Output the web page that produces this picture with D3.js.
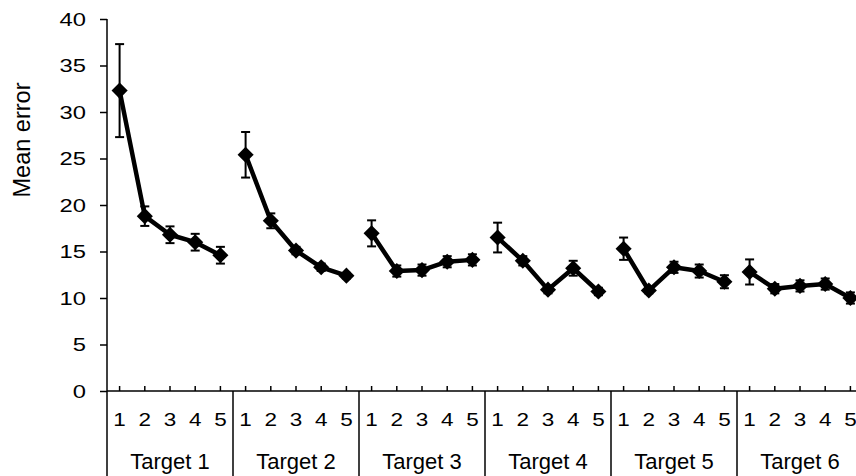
<!DOCTYPE html>
<html>
<head>
<meta charset="utf-8">
<script src="https://cdn.jsdelivr.net/npm/d3@7"></script>
<style>
  body { margin: 0; background: #fff; }
  svg { display: block; font-family: Arial, "Liberation Sans", sans-serif; }
</style>
</head>
<body>
<div id="vue"></div>
<script>
// données
var targets = ["Target 1", "Target 2", "Target 3", "Target 4", "Target 5", "Target 6"];
var trials = ["1", "2", "3", "4", "5"];
var yTicks = [0, 5, 10, 15, 20, 25, 30, 35, 40];

var meanT1 = [32.3, 18.8, 16.8, 16.0, 14.6];
var meanT2 = [25.4, 18.3, 15.1, 13.3, 12.4];
var meanT3 = [16.95, 12.9, 13.0, 13.9, 14.1];
var meanT4 = [16.5, 14.0, 10.9, 13.2, 10.7];
var meanT5 = [15.3, 10.8, 13.3, 12.9, 11.75];
var meanT6 = [12.8, 11.0, 11.3, 11.5, 10.0];

var errT1 = [5.0, 1.05, 0.9, 0.9, 0.9];
var errT2 = [2.45, 0.8, 0.4, 0.4, 0.3];
var errT3 = [1.4, 0.6, 0.6, 0.6, 0.6];
var errT4 = [1.6, 0.5, 0.4, 0.8, 0.4];
var errT5 = [1.2, 0.3, 0.6, 0.7, 0.7];
var errT6 = [1.35, 0.5, 0.6, 0.6, 0.6];

var means = [meanT1, meanT2, meanT3, meanT4, meanT5, meanT6];
var errs = [errT1, errT2, errT3, errT4, errT5, errT6];

var width = 856, height = 476;
var plotLeft = 107, plotRight = 863, plotTop = 19, plotBottom = 391;

var svg = d3.select("#vue").append("svg")
  .attr("width", width)
  .attr("height", height);

// une catégorie par essai et par cible
var cats = [];
targets.forEach(function (t, g) {
  trials.forEach(function (n, i) { cats.push(g + "-" + i); });
});

var x = d3.scaleBand().domain(cats).range([plotLeft, plotRight]);
var xg = d3.scaleBand().domain(targets).range([plotLeft, plotRight]);
var y = d3.scaleLinear().domain([0, 40]).range([plotBottom, plotTop]);

// axe Y
var yAxis = svg.append("g")
  .attr("transform", "translate(" + plotLeft + ",0)")
  .call(d3.axisLeft(y).tickValues(yTicks).tickSize(7).tickPadding(13));
yAxis.select(".domain").remove();
yAxis.selectAll(".tick line").attr("stroke", "#000").attr("stroke-width", 1.5);
// les chiffres de l'original sont un peu étirés en largeur
yAxis.selectAll(".tick text")
  .attr("font-size", 19).attr("fill", "#000")
  .attr("x", 0)
  .attr("transform", "translate(-21,0) scale(1.25,1)");

svg.append("line")
  .attr("x1", plotLeft).attr("x2", plotLeft)
  .attr("y1", plotTop).attr("y2", height)
  .attr("stroke", "#000").attr("stroke-width", 1.5);

// axe X
var xAxis = svg.append("g")
  .attr("transform", "translate(0," + plotBottom + ")")
  .call(d3.axisBottom(x).tickSize(-5).tickFormat(function (d) {
    return trials[+d.split("-")[1]];
  }));
xAxis.select(".domain").remove();
xAxis.selectAll(".tick line").attr("stroke", "#000").attr("stroke-width", 1.5);
xAxis.selectAll(".tick text")
  .attr("font-size", 18).attr("fill", "#000")
  .attr("y", 35).attr("dy", 0)
  .attr("transform", "scale(1.25,1)");

svg.append("line")
  .attr("x1", plotLeft).attr("x2", plotRight)
  .attr("y1", plotBottom).attr("y2", plotBottom)
  .attr("stroke", "#000").attr("stroke-width", 1.5);

// séparateurs entre cibles
svg.selectAll("line.sep")
  .data(targets.slice(1))
  .enter().append("line")
  .attr("class", "sep")
  .attr("x1", function (d) { return xg(d); })
  .attr("x2", function (d) { return xg(d); })
  .attr("y1", plotBottom).attr("y2", height)
  .attr("stroke", "#000").attr("stroke-width", 1.5);

svg.selectAll("text.target")
  .data(targets)
  .enter().append("text")
  .attr("class", "target")
  .attr("x", function (d) { return xg(d) + xg.bandwidth() / 2; })
  .attr("y", 469)
  .attr("text-anchor", "middle")
  .attr("font-size", 22)
  .text(function (d) { return d; });

// titre de l'axe Y
svg.append("text")
  .attr("transform", "translate(30,140) rotate(-90)")
  .attr("text-anchor", "middle")
  .attr("font-size", 23.5)
  .text("Mean error");

// courbes, barres d'erreur et marqueurs
var line = d3.line()
  .x(function (d) { return x(d.cat) + x.bandwidth() / 2; })
  .y(function (d) { return y(d.v); });

var diamond = d3.symbol().type(d3.symbolSquare).size(130);

means.forEach(function (serie, g) {
  var pts = serie.map(function (v, i) {
    return { cat: g + "-" + i, v: v, e: errs[g][i] };
  });
  var grp = svg.append("g");

  grp.append("path")
    .datum(pts)
    .attr("d", line)
    .attr("fill", "none")
    .attr("stroke", "#000")
    .attr("stroke-width", 4.5)
    .attr("stroke-linejoin", "round");

  var eb = grp.selectAll("g.err")
    .data(pts)
    .enter().append("g")
    .attr("class", "err")
    .attr("transform", function (d) { return "translate(" + (x(d.cat) + x.bandwidth() / 2) + ",0)"; })
    .attr("stroke", "#000")
    .attr("stroke-width", 2);
  eb.append("line")
    .attr("y1", function (d) { return y(d.v + d.e); })
    .attr("y2", function (d) { return y(d.v - d.e); });
  eb.append("line")
    .attr("x1", -4.5).attr("x2", 4.5)
    .attr("y1", function (d) { return y(d.v + d.e); })
    .attr("y2", function (d) { return y(d.v + d.e); });
  eb.append("line")
    .attr("x1", -4.5).attr("x2", 4.5)
    .attr("y1", function (d) { return y(d.v - d.e); })
    .attr("y2", function (d) { return y(d.v - d.e); });

  grp.selectAll("path.pt")
    .data(pts)
    .enter().append("path")
    .attr("class", "pt")
    .attr("d", diamond)
    .attr("transform", function (d) {
      return "translate(" + (x(d.cat) + x.bandwidth() / 2) + "," + y(d.v) + ") rotate(45)";
    })
    .attr("fill", "#000");
});
</script>
</body>
</html>
